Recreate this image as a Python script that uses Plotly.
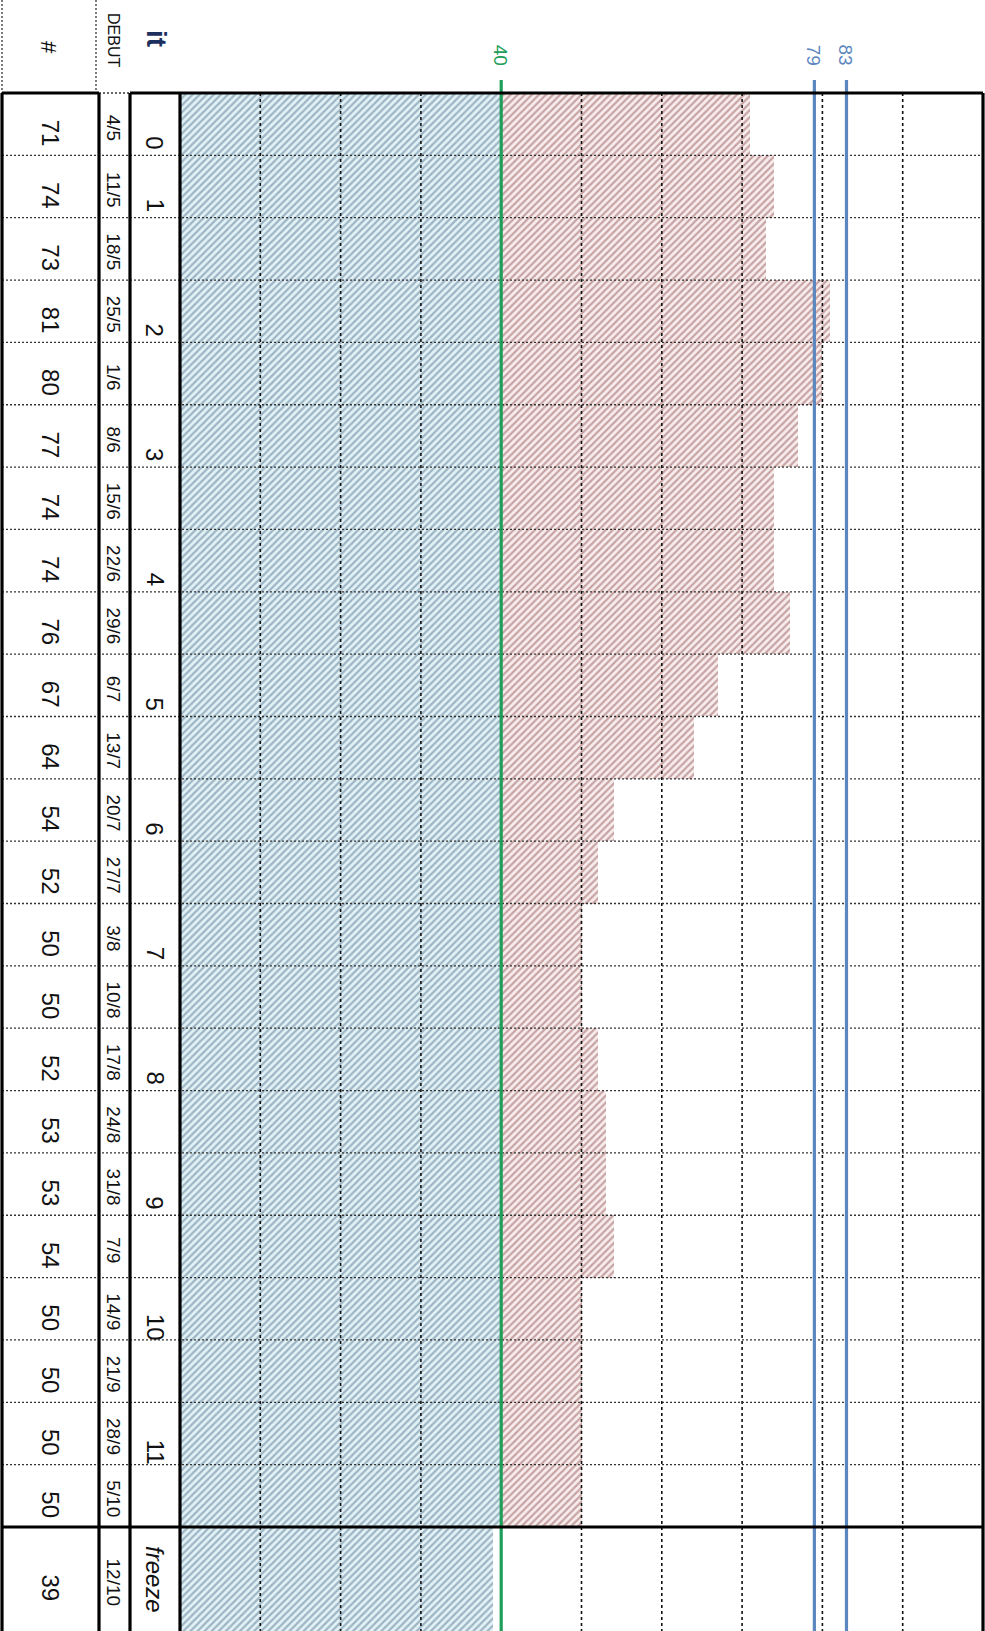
import plotly.graph_objects as go

# ---------------- data ----------------
weeks = ["4/5", "11/5", "18/5", "25/5", "1/6", "8/6", "15/6", "22/6", "29/6", "6/7",
         "13/7", "20/7", "27/7", "3/8", "10/8", "17/8", "24/8", "31/8", "7/9", "14/9",
         "21/9", "28/9", "5/10", "12/10"]
counts = [71, 74, 73, 81, 80, 77, 74, 74, 76, 67, 64, 54, 52, 50, 50, 52, 53, 53, 54,
          50, 50, 50, 50, 39]
iterations = ["0", "1", "", "2", "", "3", "", "4", "", "5", "", "6", "", "7", "", "8",
              "", "9", "", "10", "", "11", "", "freeze"]
capacity = 40
ref_lines = [40, 79, 83]
ref_colors = ["#1f9e5a", "#5b86be", "#5b86be"]
grid_ticks = [10, 20, 30, 40, 50, 60, 70, 80, 90]

# ---------------- layout constants (pixels) ----------------
W, H = 985, 1631
HEADER_H = 93
FREEZE_TOP = 1527
N_REG = len(weeks) - 1
ROW_H = (FREEZE_TOP - HEADER_H) / N_REG
FREEZE_H = (H - FREEZE_TOP) / ROW_H
COL_L, COL_NUM, COL_DEB, COL_IT, COL_R = 2, 99, 130, 180, 983

def px(x):
    return x / W

def py(y):
    return 1 - y / H

y_pos = list(range(N_REG)) + [N_REG - 0.5 + FREEZE_H / 2]
widths = [1] * N_REG + [FREEZE_H]
y_top, y_bot = -0.5, N_REG - 0.5 + FREEZE_H

base_vals = [min(c, capacity) for c in counts]
over_vals = [c - b for c, b in zip(counts, base_vals)]

fig = go.Figure()
fig.add_trace(go.Bar(
    y=y_pos, x=base_vals, width=widths, orientation="h",
    marker=dict(color="#587790", line=dict(width=0),
                pattern=dict(shape="/", fgcolor="#587790", bgcolor="#e2f2f7",
                             size=5, solidity=0.45)),
    hoverinfo="x", showlegend=False))
fig.add_trace(go.Bar(
    y=y_pos, x=over_vals, width=widths, orientation="h",
    marker=dict(color="#985858", line=dict(width=0),
                pattern=dict(shape="/", fgcolor="#985858", bgcolor="#f8eded",
                             size=5, solidity=0.45)),
    hoverinfo="x", showlegend=False))

shapes = []
# vertical grid lines (drawn above the bars)
for t in grid_ticks:
    shapes.append(dict(type="line", xref="x", yref="y", x0=t, x1=t, y0=y_top, y1=y_bot,
                       line=dict(color="#111111", width=1.6, dash="3px,3px"), layer="above"))
# horizontal row separators
for i in range(1, N_REG):
    shapes.append(dict(type="line", xref="paper", yref="y", x0=px(COL_L), x1=px(COL_R),
                       y0=i - 0.5, y1=i - 0.5,
                       line=dict(color="#333333", width=1.3, dash="2px,2px"), layer="above"))
# DEBUT top dotted
shapes.append(dict(type="line", xref="paper", yref="paper", x0=px(COL_NUM), x1=px(COL_DEB),
                   y0=py(HEADER_H), y1=py(HEADER_H),
                   line=dict(color="#333333", width=1.3, dash="2px,2px"), layer="above"))
# header dotted verticals
for xx in (COL_L, 96):
    shapes.append(dict(type="line", xref="paper", yref="paper", x0=px(xx), x1=px(xx),
                       y0=py(0), y1=py(HEADER_H),
                       line=dict(color="#333333", width=1.3, dash="2px,2px"), layer="above"))
# reference lines
for v, c in zip(ref_lines, ref_colors):
    shapes.append(dict(type="line", xref="x", yref="paper", x0=v, x1=v, y0=0, y1=py(80),
                       line=dict(color=c, width=3.2), layer="above"))
# thick borders
thick = dict(color="#000000", width=3.2)
def tline(x0, y0, x1, y1):
    shapes.append(dict(type="line", xref="paper", yref="paper", x0=px(x0), x1=px(x1),
                       y0=py(y0), y1=py(y1), line=thick, layer="above"))
tline(COL_IT, HEADER_H, COL_R, HEADER_H)
tline(COL_R, HEADER_H, COL_R, H)
tline(COL_IT, HEADER_H, COL_IT, H)
tline(COL_DEB, HEADER_H, COL_DEB, H)
tline(COL_DEB, HEADER_H, COL_IT, HEADER_H)
tline(COL_L, HEADER_H, COL_L, H)
tline(COL_NUM, HEADER_H, COL_NUM, H)
tline(COL_L, HEADER_H, COL_NUM, HEADER_H)
tline(COL_L, FREEZE_TOP, COL_R, FREEZE_TOP)

annotations = []
FONT = "Liberation Sans, Arial, sans-serif"
NARROW = "Liberation Sans Narrow, Arial Narrow, Liberation Sans, sans-serif"
C = dict(showarrow=False, textangle=90, xanchor="center", yanchor="middle")
for yp, c in zip(y_pos, counts):
    annotations.append(dict(xref="paper", yref="y", x=px((COL_L + COL_NUM) / 2), y=yp,
                            yshift=-9, text=str(c),
                            font=dict(family=FONT, size=24, color="#111111"), **C))
for yp, w in zip(y_pos, weeks):
    annotations.append(dict(xref="paper", yref="y", x=px((COL_NUM + COL_DEB) / 2 - 1), y=yp,
                            yshift=-3, text=w,
                            font=dict(family=NARROW, size=19, color="#111111"), **C))
for yp, it in zip(y_pos, iterations):
    if not it:
        continue
    if it == "freeze":
        annotations.append(dict(xref="paper", yref="y", x=px((COL_DEB + COL_IT) / 2), y=yp,
                                text="<i>freeze</i>",
                                font=dict(family=FONT, size=24, color="#111111"), **C))
    else:
        annotations.append(dict(xref="paper", yref="y", x=px((COL_DEB + COL_IT) / 2), y=yp,
                                yshift=-(ROW_H / 2 - 13), text=it,
                                font=dict(family=FONT, size=24, color="#111111"), **C))
# header
annotations.append(dict(xref="paper", yref="paper", x=px(48), y=py(47), text="#",
                        font=dict(family=FONT, size=22, color="#111111"), **C))
annotations.append(dict(xref="paper", yref="paper", x=px(114), y=py(40), text="DEBUT",
                        font=dict(family=NARROW, size=16, color="#111111"), **C))
annotations.append(dict(xref="paper", yref="paper", x=px(157), y=py(38), text="<b>it</b>",
                        font=dict(family=FONT, size=28, color="#1d2f5e"), **C))
# reference labels
for v, c in zip(ref_lines, ref_colors):
    annotations.append(dict(xref="x", yref="paper", x=v, y=py(55), text=str(v),
                            font=dict(family=FONT, size=19, color=c), **C))

fig.update_layout(
    width=W, height=H, margin=dict(l=0, r=0, t=0, b=0),
    paper_bgcolor="white", plot_bgcolor="white",
    barmode="stack",
    xaxis=dict(range=[0, 100], domain=[px(COL_IT), px(COL_R)], showgrid=False,
               zeroline=False, showticklabels=False, ticks="", fixedrange=True),
    yaxis=dict(range=[y_bot, y_top], domain=[0, py(HEADER_H)], showgrid=False,
               zeroline=False, showticklabels=False, ticks="", fixedrange=True),
    shapes=shapes, annotations=annotations,
)

fig.write_html("out.html", config={"displayModeBar": False},
               post_script="document.body.style.margin='0px';")
